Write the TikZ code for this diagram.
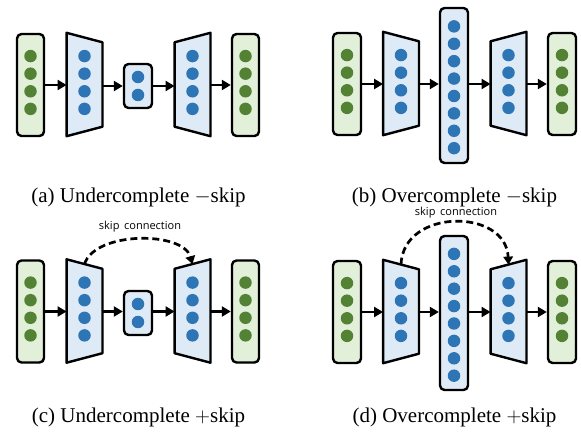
\documentclass[tikz,border=0pt]{standalone}
\usepackage{fontspec}
\setmainfont{Liberation Serif}
\newfontfamily\labelfont{Open Sans}
\usetikzlibrary{calc,arrows.meta,shadows}

\definecolor{iofill}{HTML}{E2F0D9}
\definecolor{iodot}{HTML}{548235}
\definecolor{hidfill}{HTML}{DEEBF7}
\definecolor{hiddot}{HTML}{2E75B6}

% column of equally spaced neurons inside a layer node
% #1 layer node, #2 count, #3 spacing, #4 upward shift, #5 dot style
\newcommand\putdots[5]{%
  \foreach \k in {1,...,#2}
    \node[#5] (#1-d\k) at ($(#1.center)+(0pt,{((#2+1)/2-\k)*#3+#4})$) {};}

% encoder / decoder trapezoids drawn over an invisible frame node
\newcommand\encshape[1]{%
  \draw[layer,fill=hidfill] (#1.north west) -- ($(#1.north east)+(0pt,-9.5pt)$)
    -- ($(#1.south east)+(0pt,9.5pt)$) -- (#1.south west) -- cycle;}
\newcommand\decshape[1]{%
  \draw[layer,fill=hidfill] ($(#1.north west)+(0pt,-9.5pt)$) -- (#1.north east)
    -- (#1.south east) -- ($(#1.south west)+(0pt,9.5pt)$) -- cycle;}

\tikzset{
  layer/.style={draw=black,line width=2.4pt,line join=round,
    drop shadow={shadow xshift=0.8pt,shadow yshift=-1pt,opacity=0.3}},
  iobox/.style={layer,rectangle,rounded corners=4.5pt,fill=iofill,
    minimum width=27pt,minimum height=102pt,inner sep=0pt},
  hidbox/.style={layer,rectangle,rounded corners=4.5pt,fill=hidfill,
    minimum width=28pt,inner sep=0pt},
  trapframe/.style={rectangle,draw=none,minimum width=35.5pt,
    minimum height=103pt,inner sep=0pt},
  gdot/.style={circle,fill=iodot,minimum size=12.5pt,inner sep=0pt},
  bdot/.style={circle,fill=hiddot,minimum size=12.5pt,inner sep=0pt},
  flow/.style={line width=2.7pt,-{Triangle[length=9pt,width=10pt]}},
  skiparc/.style={line width=2.7pt,dash pattern=on 7pt off 4pt,
    -{Triangle[length=8pt,width=9.5pt]}},
  skiplabel/.style={font=\labelfont\fontsize{11}{13}\selectfont},
  caption/.style={anchor=base,font=\fontsize{21}{25}\selectfont}
}

\begin{document}
\begin{tikzpicture}[x=1pt,y=-1pt]
\useasboundingbox (0,0) rectangle (581,435);

% ---------- (a) undercomplete, no skip ----------
\node[iobox] (ain) at (30.5,85) {};
\node[trapframe] (aenc) at (84.5,84.5) {};
\node[hidbox,minimum height=44pt] (abot) at (138,86) {};
\node[trapframe] (adec) at (192.5,84.5) {};
\node[iobox] (aout) at (245.5,85) {};
\encshape{aenc}\decshape{adec}
\putdots{ain}{4}{17.6pt}{2.5pt}{gdot}
\putdots{aenc}{4}{17.6pt}{2pt}{bdot}
\putdots{abot}{2}{18pt}{0pt}{bdot}
\putdots{adec}{4}{17.6pt}{2pt}{bdot}
\putdots{aout}{4}{17.6pt}{2.5pt}{gdot}
\draw[flow] (ain) -- (aenc.west |- ain);
\draw[flow] (aenc.east |- abot) -- (abot);
\draw[flow] (abot) -- (adec.west |- abot);
\draw[flow] (adec.east |- aout) -- (aout);
\node[caption] (acap) at (138.5,203) {(a) Undercomplete $-$skip};

% ---------- (b) overcomplete, no skip ----------
\node[iobox,minimum width=28pt] (bin) at (347,84) {};
\node[trapframe] (benc) at (401,83.5) {};
\node[hidbox,minimum height=155pt] (bmid) at (454,85.5) {};
\node[trapframe] (bdec) at (508.5,83.5) {};
\node[iobox,minimum width=28pt] (bout) at (562,84) {};
\encshape{benc}\decshape{bdec}
\putdots{bin}{4}{17.6pt}{2.5pt}{gdot}
\putdots{benc}{4}{17.6pt}{2pt}{bdot}
\putdots{bmid}{8}{17.4pt}{-1.8pt}{bdot}
\putdots{bdec}{4}{17.6pt}{2pt}{bdot}
\putdots{bout}{4}{17.6pt}{2.5pt}{gdot}
\draw[flow] (bin) -- (benc.west |- bin);
\draw[flow] (benc.east |- bin) -- (bmid.west |- bin);
\draw[flow] (bmid.east |- bin) -- (bdec.west |- bin);
\draw[flow] (bdec.east |- bout) -- (bout);
\node[caption] (bcap) at (454.5,203) {(b) Overcomplete $-$skip};

% ---------- (c) undercomplete, with skip ----------
\node[iobox] (cin) at (30.5,311.5) {};
\node[trapframe] (cenc) at (84.5,311) {};
\node[hidbox,minimum height=44pt] (cbot) at (138,313) {};
\node[trapframe] (cdec) at (192.5,311) {};
\node[iobox] (cout) at (245.5,311.5) {};
\encshape{cenc}\decshape{cdec}
\putdots{cin}{4}{17.6pt}{2.5pt}{gdot}
\putdots{cenc}{4}{17.6pt}{2pt}{bdot}
\putdots{cbot}{2}{18pt}{0pt}{bdot}
\putdots{cdec}{4}{17.6pt}{2pt}{bdot}
\putdots{cout}{4}{17.6pt}{2.5pt}{gdot}
\draw[flow] (cin) -- (cenc.west |- cin);
\draw[flow] (cenc.east |- cin) -- (cbot.west |- cin);
\draw[flow] (cbot.east |- cin) -- (cdec.west |- cin);
\draw[flow] (cdec.east |- cout) -- (cout);
\coordinate (cs) at ($(cenc.north)+(0pt,-4.8pt)$);
\coordinate (ce) at ($(cdec.north)+(0pt,-4.8pt)$);
\draw[skiparc] (cs) .. controls (95,231) and (183,231) .. (ce);
\node[skiplabel] (clab) at (140,227) {skip\, connection};
\node[caption] (ccap) at (138.5,423) {(c) Undercomplete $+$skip};

% ---------- (d) overcomplete, with skip ----------
\node[iobox,minimum width=28pt] (din) at (347,312) {};
\node[trapframe] (denc) at (401,311.5) {};
\node[hidbox,minimum height=154pt] (dmid) at (454,313) {};
\node[trapframe] (ddec) at (508.5,311.5) {};
\node[iobox,minimum width=28pt] (dout) at (562,312) {};
\encshape{denc}\decshape{ddec}
\putdots{din}{4}{17.6pt}{2.5pt}{gdot}
\putdots{denc}{4}{17.6pt}{2pt}{bdot}
\putdots{dmid}{8}{17.4pt}{-1.8pt}{bdot}
\putdots{ddec}{4}{17.6pt}{2pt}{bdot}
\putdots{dout}{4}{17.6pt}{2.5pt}{gdot}
\draw[flow] (din) -- (denc.west |- din);
\draw[flow] (denc.east |- din) -- (dmid.west |- din);
\draw[flow] (dmid.east |- din) -- (ddec.west |- din);
\draw[flow] (ddec.east |- dout) -- (dout);
\coordinate (ds) at ($(denc.north)+(0pt,-4.8pt)$);
\coordinate (de) at ($(ddec.north)+(0pt,-4.8pt)$);
\draw[skiparc] (ds) .. controls (403,208) and (506,208) .. (de);
\node[skiplabel] (dlab) at (456,213) {skip\, connection};
\node[caption] (dcap) at (454.5,423) {(d) Overcomplete $+$skip};
\end{tikzpicture}
\end{document}
